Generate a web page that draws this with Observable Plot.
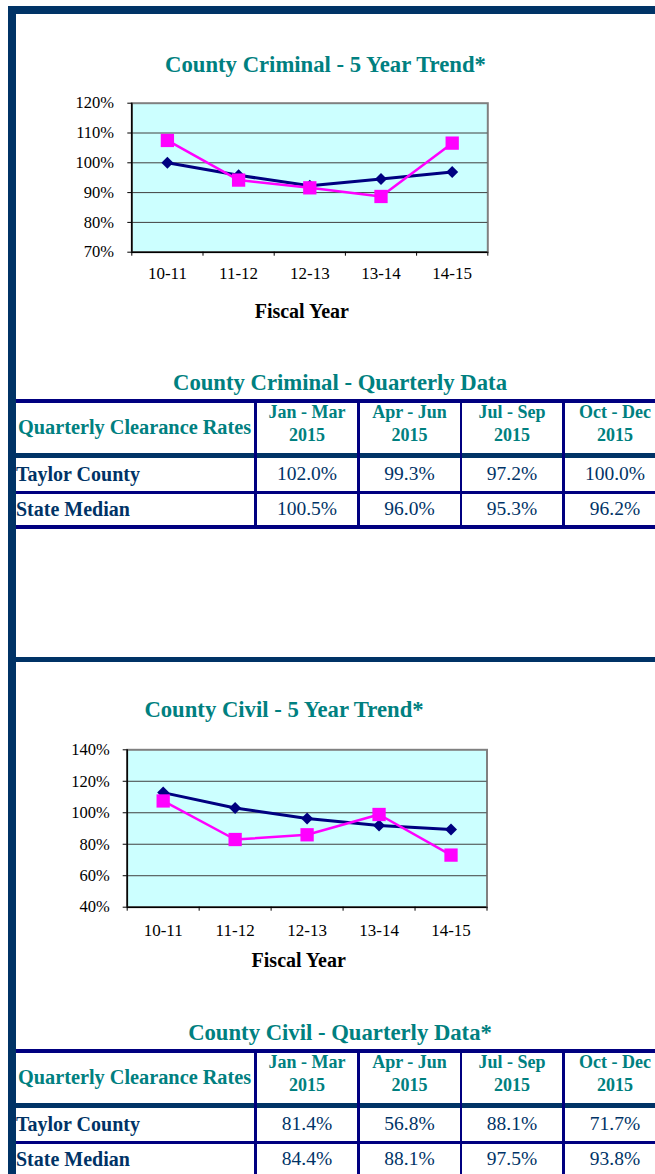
<!DOCTYPE html>
<html><head><meta charset="utf-8">
<script src="https://cdn.jsdelivr.net/npm/d3@7"></script>
<script src="https://cdn.jsdelivr.net/npm/@observablehq/plot@0.6"></script>
<style>
html,body{margin:0;padding:0;background:#fff;}
#page{position:relative;width:655px;height:1174px;overflow:hidden;background:#fff;font-family:"Liberation Serif","Times New Roman",serif;}
.t{position:absolute;white-space:nowrap;}
.bar{position:absolute;}
#page svg text{font-family:"Liberation Serif","Times New Roman",serif;}
</style></head><body><div id="page"></div>
<script>
// ---------- DATA ----------
const years = ["10-11", "11-12", "12-13", "13-14", "14-15"];
const criminalTaylor = [1.075, 0.942, 0.916, 0.887, 1.066];
const criminalState  = [1.000, 0.958, 0.923, 0.946, 0.969];
const criminalTicks  = [0.7, 0.8, 0.9, 1.0, 1.1, 1.2];
const civilTaylor = [1.075, 0.830, 0.860, 0.989, 0.731];
const civilState  = [1.128, 1.030, 0.963, 0.919, 0.894];
const civilTicks  = [0.4, 0.6, 0.8, 1.0, 1.2, 1.4];

const quarters = ["Jan - Mar", "Apr - Jun", "Jul - Sep", "Oct - Dec"];
const quarterYear = "2015";
const rowLabels = ["Taylor County", "State Median"];
const criminalQTaylor = [1.020, 0.993, 0.972, 1.000];
const criminalQState  = [1.005, 0.960, 0.953, 0.962];
const civilQTaylor = [0.814, 0.568, 0.881, 0.717];
const civilQState  = [0.844, 0.881, 0.975, 0.938];

// ---------- STYLE ----------
const SERIF = '"Liberation Serif","Times New Roman",serif';
const FRAME = "#003366", TBLUE = "#000080", TEAL = "#008080", LABEL = "#003366";
const page = document.getElementById("page");

function text(str, x, baseline, size, opts = {}) {
  const {weight = "normal", color = "#000", anchor = "start"} = opts;
  const d = document.createElement("div");
  d.className = "t";
  d.textContent = str;
  d.style.fontSize = size + "px";
  d.style.lineHeight = size + "px";
  d.style.fontWeight = weight;
  d.style.color = color;
  d.style.top = (baseline - 0.8375 * size) + "px";
  d.style.left = x + "px";
  if (anchor === "middle") d.style.transform = "translateX(-50%)";
  page.appendChild(d);
}
function rect(x, y, w, h, color) {
  const d = document.createElement("div");
  d.className = "bar";
  Object.assign(d.style, {left: x + "px", top: y + "px", width: w + "px", height: h + "px", background: color});
  page.appendChild(d);
}

function trendChart(cfg) {
  const {top, height, mTop, mBottom, mLeft, mRight, yDomain, yTicks, county, state, xPad, yPad} = cfg;
  const rows = years.map((year, i) => ({i, year, county: county[i], state: state[i]}));
  const xc = d => d.i + 0.5;
  const svg = Plot.plot({
    width: 655, height,
    marginTop: mTop, marginBottom: mBottom, marginLeft: mLeft, marginRight: mRight,
    style: `font-family: ${SERIF}; font-size: 16.5px; color: #000; background: none; overflow: visible;`,
    x: {domain: [0, years.length], axis: null},
    y: {domain: yDomain, axis: null},
    marks: [
      Plot.frame({fill: "#ccffff", stroke: "#808080", strokeWidth: 2}),
      Plot.ruleY(yTicks.slice(1, -1), {stroke: "#404040", strokeWidth: 1}),
      Plot.ruleX([0], {stroke: "#000", strokeWidth: 1.5}),
      Plot.ruleY([yDomain[0]], {stroke: "#000", strokeWidth: 1.5}),
      Plot.axisY({ticks: yTicks, tickSize: 4, tickPadding: yPad, tickFormat: d3.format(".0%"), fontSize: 16.5, label: null}),
      Plot.axisX({ticks: d3.range(years.length + 1), tickSize: 4, tickFormat: () => "", label: null}),
      Plot.axisX({ticks: years.map((_, i) => i + 0.5), tickSize: 0, tickPadding: xPad,
                  tickFormat: v => years[Math.floor(v)], fontSize: 17, label: null}),
      Plot.line(rows, {x: xc, y: "state", stroke: "#000080", strokeWidth: 3}),
      Plot.dot(rows, {x: xc, y: "state", symbol: "diamond2", r: 5.4, fill: "#000080"}),
      Plot.line(rows, {x: xc, y: "county", stroke: "#ff00ff", strokeWidth: 2.5}),
      Plot.dot(rows, {x: xc, y: "county", symbol: "square", r: 7.5, fill: "#ff00ff"})
    ]
  });
  svg.style.position = "absolute";
  svg.style.left = "0px";
  svg.style.top = top + "px";
  page.appendChild(svg);
}

function quarterTable(off, title, taylor, state) {
  const fmt = d3.format(".1%");
  text(title, 340, 391 + off, 22.7, {weight: "bold", color: TEAL, anchor: "middle"});
  const lx = 16, lw = 655 - 16;
  rect(lx, 399 + off, lw, 4.3, TBLUE);
  rect(lx, 453 + off, lw, 4.5, FRAME);
  rect(lx, 491 + off, lw, 2.6, TBLUE);
  rect(lx, 525 + off, lw, 4, TBLUE);
  [254.3, 357, 459.5, 562].forEach(x => rect(x, 399 + off, 2.6, 130, TBLUE));
  const centers = [307, 409.5, 512, 615];
  text("Quarterly Clearance Rates", 18, 434 + off, 20.3, {weight: "bold", color: TEAL});
  quarters.forEach((q, i) => {
    text(q, centers[i], 418.3 + off, 18, {weight: "bold", color: TEAL, anchor: "middle"});
    text(quarterYear, centers[i], 441 + off, 18, {weight: "bold", color: TEAL, anchor: "middle"});
  });
  const rowBase = [480.7, 515.5];
  [taylor, state].forEach((vals, r) => {
    text(rowLabels[r], 16, rowBase[r] + off, 20, {weight: "bold", color: LABEL});
    vals.forEach((v, i) => text(fmt(v), centers[i], rowBase[r] + off, 19.5, {color: LABEL, anchor: "middle"}));
  });
}

// ---------- SECTION 1 : County Criminal ----------
text("County Criminal - 5 Year Trend*", 325.5, 72.7, 22.7, {weight: "bold", color: TEAL, anchor: "middle"});
trendChart({top: 90, height: 200, mTop: 12.7, mBottom: 38.3, mLeft: 131.3, mRight: 167.7,
  yDomain: [0.7, 1.2], yTicks: criminalTicks, county: criminalTaylor, state: criminalState, xPad: 14.5, yPad: 13.7});
text("Fiscal Year", 301.8, 318, 20, {weight: "bold", anchor: "middle"});
quarterTable(0, "County Criminal - Quarterly Data", criminalQTaylor, criminalQState);

// ---------- SECTION 2 : County Civil ----------
text("County Civil - 5 Year Trend*", 284, 718.3, 22.7, {weight: "bold", color: TEAL, anchor: "middle"});
trendChart({top: 735, height: 210, mTop: 14.3, mBottom: 38.3, mLeft: 126.7, mRight: 168.5,
  yDomain: [0.4, 1.4], yTicks: civilTicks, county: civilTaylor, state: civilState, xPad: 16.5, yPad: 13.4});
text("Fiscal Year", 298.7, 966.7, 20, {weight: "bold", anchor: "middle"});
quarterTable(650, "County Civil - Quarterly Data*", civilQTaylor, civilQState);

// ---------- PAGE FRAME ----------
rect(8, 6, 655 - 8, 8, FRAME);
rect(8, 6, 8, 1174 - 6, FRAME);
rect(8, 657, 655 - 8, 5, FRAME);
</script></body></html>
